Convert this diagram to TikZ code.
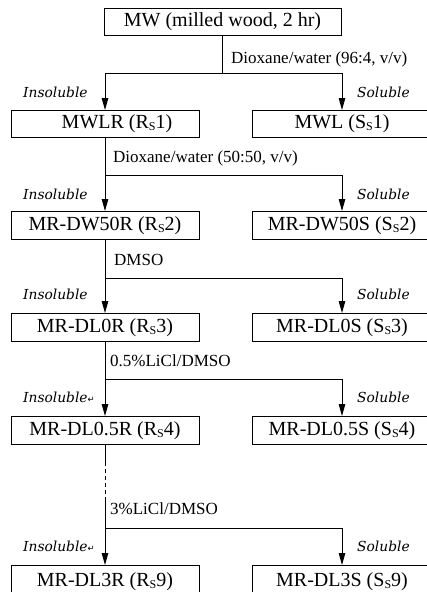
\documentclass[tikz,border=0pt]{standalone}
\usepackage{fontspec}
\setmainfont{Liberation Serif}
\newfontfamily\solfont{DejaVu Serif}
\newfontfamily\symfont{DejaVu Sans}
\usetikzlibrary{arrows.meta}
\newcommand{\lowS}{\raisebox{-2pt}{\fontsize{12}{12}\selectfont S}}
\newcommand{\retmark}{{\symfont\fontsize{8.5}{8.5}\selectfont ↵}}
\begin{document}
\begin{tikzpicture}[x=1pt,y=-1pt,
  box/.style={draw, line width=1pt, minimum height=28pt, inner sep=0pt, anchor=north,
    font=\fontsize{20}{20}\selectfont},
  lbox/.style={box, minimum width=188pt},
  rbox/.style={box, minimum width=180pt},
  proc/.style={font=\fontsize{17}{17}\selectfont, anchor=west, inner sep=0pt},
  sol/.style={font=\solfont\itshape\fontsize{13.8}{13.8}\selectfont, inner sep=0pt},
  ins/.style={sol, anchor=west},
  solr/.style={sol, anchor=west},
  line/.style={line width=1pt},
  arr/.style={line width=1pt, -{Triangle[length=12pt,width=6.5pt]}}]
\useasboundingbox (0,0) rectangle (427,592);
\clip (0,0) rectangle (427,592);

% boxes
\node[box, minimum width=237pt, minimum height=27pt] (mw) at (222.5,8) {MW (milled wood, 2 hr)};
\node[lbox, minimum height=27pt] (r1) at (105,110) {\hspace{24pt}MWLR (R\lowS1)};
\node[rbox, minimum height=27pt] (s1) at (342,110) {MWL (S\lowS1)};
\node[lbox] (r2) at (105,211) {MR-DW50R (R\lowS2)};
\node[rbox] (s2) at (342,211) {MR-DW50S (S\lowS2)};
\node[lbox] (r3) at (105,313) {MR-DL0R (R\lowS3)};
\node[rbox] (s3) at (342,313) {MR-DL0S (S\lowS3)};
\node[lbox] (r4) at (105,416) {MR-DL0.5R (R\lowS4)};
\node[rbox] (s4) at (342,416) {MR-DL0.5S (S\lowS4)};
\node[lbox, minimum height=34pt] (r6) at (105,565) {\raisebox{6pt}{MR-DL3R (R\lowS9)}};
\node[rbox, minimum height=34pt] (s6) at (342,565) {\raisebox{6pt}{MR-DL3S (S\lowS9)}};

% branch levels
\coordinate (b1) at (0,73);
\coordinate (b2) at (0,175);
\coordinate (b3) at (0,278);
\coordinate (b4) at (0,379);
\coordinate (b5) at (0,528);
\coordinate (d1) at (105,462);
\coordinate (d2) at (105,498);

% connectors
\draw[line] (mw.south) -- (mw.south |- b1);
\draw[arr] (mw.south |- b1) -| (r1.north);
\draw[arr] (mw.south |- b1) -| (s1.north);

\draw[arr] (r1.south) -- (r2.north);
\draw[arr] (r1.south |- b2) -| (s2.north);

\draw[arr] (r2.south) -- (r3.north);
\draw[arr] (r2.south |- b3) -| (s3.north);

\draw[arr] (r3.south) -- (r4.north);
\draw[arr] (r3.south |- b4) -| (s4.north);

\draw[line] (r4.south) -- (d1);
\draw[line, dash pattern=on 4pt off 3pt] (d1) -- (d2);
\draw[arr] (d2) -- (r6.north);
\draw[arr] (r6.north |- b5) -| (s6.north);

% process labels
\node[proc] (p1) at (231,59) {Dioxane/water (96:4, v/v)};
\node[proc] (p2) at (113,158) {Dioxane/water (50:50, v/v)};
\node[proc] (p3) at (114,260) {DMSO};
\node[proc] (p4) at (110,361) {0.5\%LiCl/DMSO};
\node[proc] (p5) at (110,509) {3\%LiCl/DMSO};

% solubility labels
\node[ins] (i1) at (23,92) {Insoluble};
\node[solr] (o1) at (357,92) {Soluble};
\node[ins] (i2) at (23,194) {Insoluble};
\node[solr] (o2) at (357,194) {Soluble};
\node[ins] (i3) at (23,294) {Insoluble};
\node[solr] (o3) at (357,294) {Soluble};
\node[ins] (i4) at (23,397) {Insoluble\retmark};
\node[solr] (o4) at (357,397) {Soluble};
\node[ins] (i5) at (23,546) {Insoluble\retmark};
\node[solr] (o5) at (357,546) {Soluble};
\end{tikzpicture}
\end{document}
